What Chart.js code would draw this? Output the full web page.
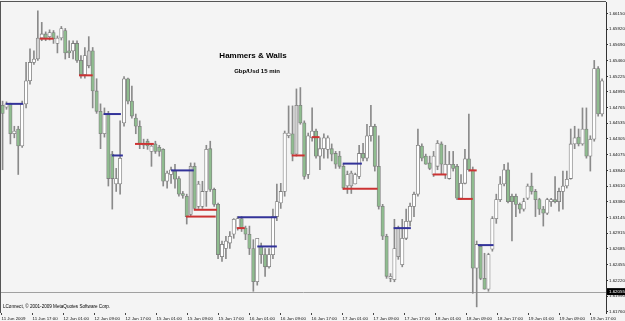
<!DOCTYPE html>
<html>
<head>
<meta charset="utf-8">
<script src="https://cdn.jsdelivr.net/npm/chart.js@4.4.0/dist/chart.umd.min.js"></script>
<style>
  html, body { margin: 0; padding: 0; background: #f4f4f4; }
</style>
</head>
<body>
<canvas id="candles" width="625" height="321"></canvas>
<script>
// x axis labels, one every 8 hourly bars
const timeLabels = ['11 Jun 2009', '11 Jun 17:00', '12 Jun 01:00', '12 Jun 09:00', '12 Jun 17:00',
  '15 Jun 01:00', '15 Jun 09:00', '15 Jun 17:00', '16 Jun 01:00', '16 Jun 09:00', '16 Jun 17:00',
  '17 Jun 01:00', '17 Jun 09:00', '17 Jun 17:00', '18 Jun 01:00', '18 Jun 09:00', '18 Jun 17:00',
  '19 Jun 01:00', '19 Jun 09:00', '19 Jun 17:00'];

// price scale labels
const priceTicks = [1.66150, 1.65920, 1.65690, 1.65460, 1.65225, 1.64995, 1.64765, 1.64535, 1.64305,
  1.64075, 1.63840, 1.63610, 1.63380, 1.63145, 1.62915, 1.62685, 1.62455, 1.62220, 1.61990, 1.61760];

const opens = [1.6480, 1.6477, 1.6482, 1.6438, 1.6445, 1.6420, 1.6482, 1.6516, 1.6543, 1.6548,
  1.6579, 1.6585, 1.6581, 1.6587, 1.6571, 1.6579, 1.6590, 1.6560, 1.6560, 1.6571,
  1.6546, 1.6525, 1.6538, 1.6560, 1.6501, 1.6471, 1.6438, 1.6467, 1.6408, 1.6364,
  1.6364, 1.6454, 1.6519, 1.6486, 1.6461, 1.6449, 1.6421, 1.6427, 1.6412, 1.6423,
  1.6418, 1.6415, 1.6368, 1.6378, 1.6383, 1.6372, 1.6350, 1.6346, 1.6319, 1.6390,
  1.6331, 1.6331, 1.6353, 1.6416, 1.6356, 1.6334, 1.6257, 1.6269, 1.6277, 1.6290,
  1.6299, 1.6313, 1.6299, 1.6290, 1.6269, 1.6220, 1.6272, 1.6260, 1.6242, 1.6260,
  1.6316, 1.6336, 1.6353, 1.6435, 1.6438, 1.6408, 1.6480, 1.6454, 1.6378, 1.6432,
  1.6442, 1.6405, 1.6416, 1.6415, 1.6416, 1.6409, 1.6405, 1.6390, 1.6361, 1.6361,
  1.6364, 1.6375, 1.6409, 1.6402, 1.6435, 1.6449, 1.6390, 1.6331, 1.6287, 1.6225,
  1.6223, 1.6299, 1.6245, 1.6284, 1.6309, 1.6331, 1.6349, 1.6420, 1.6405, 1.6395,
  1.6378, 1.6390, 1.6423, 1.6378, 1.6372, 1.6393, 1.6390, 1.6343, 1.6365, 1.6401,
  1.6385, 1.6240, 1.6272, 1.6225, 1.6209, 1.6268, 1.6313, 1.6341, 1.6364, 1.6385,
  1.6346, 1.6346, 1.6334, 1.6327, 1.6343, 1.6361, 1.6353, 1.6341, 1.6327, 1.6321,
  1.6338, 1.6341, 1.6338, 1.6353, 1.6361, 1.6372, 1.6423, 1.6433, 1.6423, 1.6445,
  1.6405, 1.6430, 1.6534, 1.6467];

const highs = [1.6486, 1.6485, 1.6483, 1.6449, 1.6449, 1.6486, 1.6543, 1.6563, 1.6560, 1.6619,
  1.6602, 1.6588, 1.6591, 1.6590, 1.6582, 1.6596, 1.6593, 1.6575, 1.6575, 1.6575,
  1.6553, 1.6565, 1.6581, 1.6565, 1.6519, 1.6482, 1.6476, 1.6471, 1.6412, 1.6387,
  1.6457, 1.6522, 1.6520, 1.6508, 1.6467, 1.6457, 1.6430, 1.6430, 1.6423, 1.6427,
  1.6421, 1.6416, 1.6383, 1.6389, 1.6393, 1.6375, 1.6353, 1.6349, 1.6395, 1.6395,
  1.6368, 1.6368, 1.6421, 1.6427, 1.6358, 1.6336, 1.6280, 1.6287, 1.6294, 1.6313,
  1.6316, 1.6316, 1.6302, 1.6302, 1.6282, 1.6284, 1.6277, 1.6269, 1.6269, 1.6327,
  1.6364, 1.6365, 1.6442, 1.6479, 1.6479, 1.6504, 1.6506, 1.6457, 1.6439, 1.6476,
  1.6445, 1.6432, 1.6438, 1.6435, 1.6423, 1.6412, 1.6412, 1.6393, 1.6383, 1.6383,
  1.6380, 1.6421, 1.6424, 1.6452, 1.6480, 1.6452, 1.6435, 1.6334, 1.6290, 1.6232,
  1.6312, 1.6302, 1.6312, 1.6327, 1.6336, 1.6352, 1.6445, 1.6423, 1.6408, 1.6405,
  1.6412, 1.6428, 1.6426, 1.6421, 1.6412, 1.6412, 1.6393, 1.6378, 1.6415, 1.6467,
  1.6389, 1.6280, 1.6275, 1.6262, 1.6262, 1.6316, 1.6349, 1.6375, 1.6393, 1.6395,
  1.6349, 1.6349, 1.6336, 1.6343, 1.6364, 1.6380, 1.6356, 1.6343, 1.6331, 1.6343,
  1.6343, 1.6375, 1.6358, 1.6383, 1.6383, 1.6445, 1.6449, 1.6445, 1.6476, 1.6476,
  1.6435, 1.6546, 1.6537, 1.6519];

const lows = [1.6385, 1.6474, 1.6423, 1.6432, 1.6378, 1.6418, 1.6476, 1.6511, 1.6540, 1.6546,
  1.6575, 1.6575, 1.6576, 1.6571, 1.6557, 1.6576, 1.6548, 1.6550, 1.6548, 1.6543,
  1.6520, 1.6520, 1.6535, 1.6476, 1.6468, 1.6416, 1.6433, 1.6361, 1.6327, 1.6353,
  1.6349, 1.6449, 1.6482, 1.6461, 1.6438, 1.6416, 1.6416, 1.6415, 1.6390, 1.6409,
  1.6405, 1.6361, 1.6358, 1.6365, 1.6358, 1.6346, 1.6343, 1.6305, 1.6316, 1.6327,
  1.6328, 1.6328, 1.6331, 1.6353, 1.6331, 1.6254, 1.6250, 1.6254, 1.6269, 1.6284,
  1.6296, 1.6294, 1.6282, 1.6260, 1.6206, 1.6215, 1.6247, 1.6228, 1.6240, 1.6254,
  1.6310, 1.6328, 1.6346, 1.6432, 1.6398, 1.6405, 1.6452, 1.6371, 1.6372, 1.6427,
  1.6402, 1.6385, 1.6402, 1.6402, 1.6398, 1.6387, 1.6387, 1.6356, 1.6350, 1.6350,
  1.6364, 1.6372, 1.6398, 1.6398, 1.6427, 1.6383, 1.6327, 1.6282, 1.6225, 1.6220,
  1.6220, 1.6253, 1.6242, 1.6282, 1.6302, 1.6316, 1.6346, 1.6398, 1.6393, 1.6385,
  1.6375, 1.6385, 1.6378, 1.6372, 1.6371, 1.6383, 1.6341, 1.6341, 1.6364, 1.6383,
  1.6203, 1.6183, 1.6223, 1.6209, 1.6206, 1.6265, 1.6306, 1.6338, 1.6361, 1.6336,
  1.6280, 1.6316, 1.6321, 1.6324, 1.6341, 1.6349, 1.6316, 1.6319, 1.6302, 1.6319,
  1.6331, 1.6336, 1.6324, 1.6327, 1.6358, 1.6371, 1.6416, 1.6420, 1.6421, 1.6402,
  1.6383, 1.6427, 1.6464, 1.6464];

const closes = [1.6468, 1.6482, 1.6438, 1.6442, 1.6420, 1.6482, 1.6516, 1.6543, 1.6548, 1.6579,
  1.6585, 1.6578, 1.6587, 1.6578, 1.6579, 1.6593, 1.6557, 1.6557, 1.6571, 1.6546,
  1.6525, 1.6553, 1.6560, 1.6501, 1.6471, 1.6438, 1.6467, 1.6372, 1.6372, 1.6372,
  1.6402, 1.6519, 1.6486, 1.6464, 1.6449, 1.6423, 1.6424, 1.6420, 1.6420, 1.6412,
  1.6412, 1.6368, 1.6380, 1.6385, 1.6371, 1.6349, 1.6347, 1.6316, 1.6390, 1.6328,
  1.6364, 1.6353, 1.6415, 1.6356, 1.6334, 1.6260, 1.6275, 1.6280, 1.6287, 1.6312,
  1.6313, 1.6299, 1.6290, 1.6269, 1.6220, 1.6284, 1.6260, 1.6242, 1.6260, 1.6316,
  1.6338, 1.6353, 1.6439, 1.6439, 1.6408, 1.6480, 1.6454, 1.6375, 1.6435, 1.6442,
  1.6405, 1.6416, 1.6432, 1.6432, 1.6408, 1.6393, 1.6390, 1.6358, 1.6378, 1.6380,
  1.6378, 1.6409, 1.6402, 1.6435, 1.6449, 1.6390, 1.6331, 1.6287, 1.6228, 1.6228,
  1.6269, 1.6257, 1.6284, 1.6309, 1.6331, 1.6349, 1.6421, 1.6402, 1.6393, 1.6387,
  1.6405, 1.6424, 1.6393, 1.6393, 1.6393, 1.6387, 1.6343, 1.6365, 1.6401, 1.6385,
  1.6240, 1.6275, 1.6225, 1.6209, 1.6260, 1.6313, 1.6341, 1.6364, 1.6385, 1.6338,
  1.6338, 1.6334, 1.6327, 1.6338, 1.6361, 1.6353, 1.6341, 1.6327, 1.6321, 1.6341,
  1.6341, 1.6338, 1.6353, 1.6361, 1.6371, 1.6423, 1.6432, 1.6423, 1.6445, 1.6405,
  1.6430, 1.6534, 1.6467, 1.6516];

// bars the indicator shades light grey
const hammerBars = [9, 22, 48, 75, 89, 101, 142];

// "walls": [from bar, to bar, price]
const redWalls = [[9.5, 13, 1.6578], [19.5, 23, 1.6524], [33.8, 38.6, 1.6423], [46.8, 54.4, 1.6316],
  [48.8, 54.7, 1.6326], [59.8, 61.8, 1.6299], [73.8, 77.1, 1.6406], [78.9, 80.9, 1.6433],
  [86.8, 95.7, 1.6357], [109.8, 113.3, 1.6378], [116.2, 120, 1.6342], [119, 121, 1.6384]];
const blueWalls = [[0.8, 5.2, 1.6482], [25.8, 30.2, 1.6467], [27.9, 30.7, 1.6406], [43, 48.8, 1.6384],
  [60, 70, 1.6315], [65, 70, 1.6272], [86.8, 91.7, 1.6394], [99.8, 104.2, 1.6299], [121.3, 125.3, 1.6274]];

const bidPrice = 1.62055;
const barsPerLabel = 7.91;

const FONT = '"Liberation Sans", Arial, sans-serif';

const idx = opens.map((_, i) => i);
const wickData = idx.map(i => ({ x: i, y: [lows[i], highs[i]] }));
const bodyData = idx.map(i => ({ x: i, y: [opens[i], closes[i]] }));
const bodyColors = idx.map(i => {
  if (hammerBars.includes(i)) return '#d0d0d0';
  return closes[i] >= opens[i] ? '#ffffff' : '#8fbc8f';
});

function wallSet(w, color) {
  return {
    type: 'line',
    data: [{ x: w[0], y: w[2] }, { x: w[1], y: w[2] }],
    borderColor: color,
    borderWidth: 2,
    pointRadius: 0,
    order: -1
  };
}

// background, bid line, frame and chart texts
const mtOverlay = {
  id: 'mtOverlay',
  beforeDraw(chart) {
    const c = chart.ctx;
    c.save();
    c.fillStyle = '#f4f4f4';
    c.fillRect(0, 0, chart.width, chart.height);
    c.restore();
  },
  beforeDatasetsDraw(chart) {
    const c = chart.ctx, a = chart.chartArea;
    const y = Math.round(chart.scales.y.getPixelForValue(bidPrice)) + 0.5;
    c.save();
    c.strokeStyle = '#a0a0a0';
    c.lineWidth = 1;
    c.beginPath();
    c.moveTo(a.left, y);
    c.lineTo(a.right, y);
    c.stroke();
    c.restore();
  },
  afterDraw(chart) {
    const c = chart.ctx, a = chart.chartArea;
    c.save();
    c.strokeStyle = '#555555';
    c.lineWidth = 1;
    c.beginPath();
    c.moveTo(0, 1.5);
    c.lineTo(a.right, 1.5);
    c.moveTo(0.5, 1);
    c.lineTo(0.5, a.bottom);
    c.stroke();

    c.fillStyle = '#000000';
    c.textAlign = 'center';
    c.textBaseline = 'middle';
    c.font = 'bold 8px ' + FONT;
    c.fillText('Hammers & Walls', 253, 56);
    c.font = 'bold 6px ' + FONT;
    c.fillText('Gbp/Usd 15 min', 257, 71);

    c.textAlign = 'left';
    c.font = '4.6px ' + FONT;
    c.fillText('LConnect, \u00a9 2001-2009 MetaQuotes Software Corp.', 3, 307);

    const y = chart.scales.y.getPixelForValue(bidPrice);
    c.fillStyle = '#000000';
    c.fillRect(a.right + 1, y - 3.5, chart.width - a.right - 1, 7);
    c.fillStyle = '#ffffff';
    c.font = '4.4px ' + FONT;
    c.fillText(bidPrice.toFixed(5), a.right + 3, y);
    c.restore();
  }
};

new Chart(document.getElementById('candles'), {
  type: 'bar',
  data: {
    datasets: [
      {
        label: 'bodies',
        data: bodyData,
        backgroundColor: bodyColors,
        borderColor: '#7f7f7f',
        borderWidth: 0.8,
        borderSkipped: false,
        barThickness: 3.4,
        minBarLength: 1,
        grouped: false,
        order: 0
      },
      {
        label: 'wicks',
        data: wickData,
        backgroundColor: '#8a8a8a',
        barThickness: 1,
        grouped: false,
        order: 1
      },
      ...redWalls.map(w => wallSet(w, '#cc3333')),
      ...blueWalls.map(w => wallSet(w, '#333399'))
    ]
  },
  options: {
    responsive: false,
    animation: false,
    layout: { padding: { top: 2, left: 1, right: 0, bottom: 0 } },
    plugins: { legend: { display: false }, tooltip: { enabled: false } },
    scales: {
      x: {
        type: 'linear',
        offset: false,
        min: -0.4,
        max: 154,
        grid: { offset: false, drawOnChartArea: false, tickLength: 2, color: '#444444' },
        border: { display: false },
        afterBuildTicks: s => { s.ticks = timeLabels.map((t, k) => ({ value: k * barsPerLabel - 0.25 })); },
        afterFit: s => { s.height = 8; s.paddingLeft = 0; s.paddingRight = 0; },
        ticks: {
          autoSkip: false,
          maxRotation: 0,
          minRotation: 0,
          align: 'start',
          padding: 1,
          color: '#111111',
          font: { family: FONT, size: 4.4 },
          callback: (v, k) => timeLabels[k]
        }
      },
      y: {
        position: 'right',
        min: 1.6174,
        max: 1.6632,
        grid: { drawOnChartArea: false, tickLength: 2, color: '#333333' },
        border: { display: true, color: '#333333' },
        afterBuildTicks: s => { s.ticks = priceTicks.map(v => ({ value: v })); },
        afterFit: s => { s.width = 19; s.paddingTop = 0; s.paddingBottom = 0; },
        ticks: {
          padding: 1,
          color: '#111111',
          font: { family: FONT, size: 4.4 },
          callback: v => v.toFixed(5)
        }
      }
    }
  },
  plugins: [mtOverlay]
});
</script>
</body>
</html>
